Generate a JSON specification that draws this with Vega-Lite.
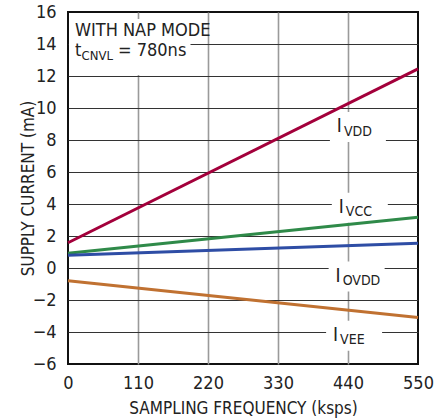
{
  "$schema": "https://vega.github.io/schema/vega-lite/v6.json",
  "width": 350,
  "height": 352,
  "autosize": {"type": "none"},
  "padding": {"left": 68, "top": 12, "right": 30, "bottom": 54},
  "background": "white",
  "config": {
    "font": "DejaVu Sans Condensed, sans-serif",
    "view": {"stroke": "#111", "strokeWidth": 2},
    "axis": {
      "domain": false,
      "ticks": false,
      "labelFlush": false,
      "labelFontSize": 18,
      "labelColor": "#222",
      "titleFontSize": 17,
      "titleFontWeight": "normal",
      "titleColor": "#222"
    }
  },
  "datasets": {
    "series": [
      {"f": 0, "current": 1.58, "series": "IVDD"},
      {"f": 550, "current": 12.44, "series": "IVDD"},
      {"f": 0, "current": 0.92, "series": "IVCC"},
      {"f": 550, "current": 3.17, "series": "IVCC"},
      {"f": 0, "current": 0.8, "series": "IOVDD"},
      {"f": 550, "current": 1.54, "series": "IOVDD"},
      {"f": 0, "current": -0.8, "series": "IVEE"},
      {"f": 550, "current": -3.1, "series": "IVEE"}
    ],
    "labels": [
      {"name": "IVDD", "main": "I", "sub": "VDD", "f": 432, "current": 8.5},
      {"name": "IVCC", "main": "I", "sub": "VCC", "f": 435, "current": 3.45},
      {"name": "IOVDD", "main": "I", "sub": "OVDD", "f": 430, "current": -0.85},
      {"name": "IVEE", "main": "I", "sub": "VEE", "f": 426, "current": -4.55}
    ],
    "note": [
      {"f": 11, "current": 14.5, "line1": "WITH NAP MODE", "t": "t", "sub": "CNVL", "rest": "= 780ns"}
    ]
  },
  "encoding": {
    "x": {
      "field": "f",
      "type": "quantitative",
      "scale": {"domain": [0, 550], "nice": false, "zero": false},
      "axis": {
        "values": [0, 110, 220, 330, 440, 550],
        "title": "SAMPLING FREQUENCY (ksps)",
        "labelPadding": 10,
        "gridColor": "#9a9a9a",
        "gridWidth": 1.6,
        "gridOpacity": {"condition": {"test": "datum.value === 0 || datum.value === 550", "value": 0}, "value": 1},
        "titleX": 175,
        "titleY": 49,
        "titleBaseline": "alphabetic"
      }
    },
    "y": {
      "field": "current",
      "type": "quantitative",
      "scale": {"domain": [-6, 16], "nice": false, "zero": false},
      "axis": {
        "values": [-6, -4, -2, 0, 2, 4, 6, 8, 10, 12, 14, 16],
        "title": "SUPPLY CURRENT (mA)",
        "labelPadding": 12,
        "gridColor": "#333",
        "gridWidth": 1.2,
        "gridOpacity": {"condition": {"test": "datum.value === -6 || datum.value === 16", "value": 0}, "value": 1},
        "titleX": -40,
        "titleY": 176,
        "titleBaseline": "middle"
      }
    }
  },
  "layer": [
    {
      "data": {"name": "note"},
      "mark": {"type": "point", "shape": "M-1,-0.461H1V0.461H-1Z", "size": 14762, "filled": true, "fill": "white", "opacity": 1, "strokeWidth": 0, "xOffset": 54.75, "yOffset": 11}
    },
    {
      "data": {"name": "labels"},
      "mark": {"type": "point", "shape": "M-1,-0.536H1V0.536H-1Z", "size": 3136, "filled": true, "fill": "white", "opacity": 1, "strokeWidth": 0, "xOffset": 15, "yOffset": -5}
    },
    {
      "data": {"name": "series"},
      "mark": {"type": "line", "strokeWidth": 3},
      "encoding": {
        "color": {
          "field": "series",
          "type": "nominal",
          "scale": {"domain": ["IVDD", "IVCC", "IOVDD", "IVEE"], "range": ["#A3003B", "#2F8A49", "#2E4DA5", "#C07131"]},
          "legend": null
        }
      }
    },
    {
      "data": {"name": "labels"},
      "mark": {"type": "text", "align": "right", "baseline": "alphabetic", "fontSize": 19, "dx": -1, "color": "#222"},
      "encoding": {"text": {"field": "main"}}
    },
    {
      "data": {"name": "labels"},
      "mark": {"type": "text", "align": "left", "baseline": "alphabetic", "fontSize": 14, "dx": 1, "dy": 3.5, "color": "#222"},
      "encoding": {"text": {"field": "sub"}}
    },
    {
      "data": {"name": "note"},
      "mark": {"type": "text", "align": "left", "baseline": "alphabetic", "fontSize": 18, "color": "#222"},
      "encoding": {"text": {"field": "line1"}}
    },
    {
      "data": {"name": "note"},
      "mark": {"type": "text", "align": "left", "baseline": "alphabetic", "fontSize": 18, "dy": 20, "color": "#222"},
      "encoding": {"text": {"field": "t"}}
    },
    {
      "data": {"name": "note"},
      "mark": {"type": "text", "align": "left", "baseline": "alphabetic", "fontSize": 13, "dx": 6.5, "dy": 24, "color": "#222"},
      "encoding": {"text": {"field": "sub"}}
    },
    {
      "data": {"name": "note"},
      "mark": {"type": "text", "align": "left", "baseline": "alphabetic", "fontSize": 18, "dx": 43, "dy": 20, "color": "#222"},
      "encoding": {"text": {"field": "rest"}}
    }
  ]
}
